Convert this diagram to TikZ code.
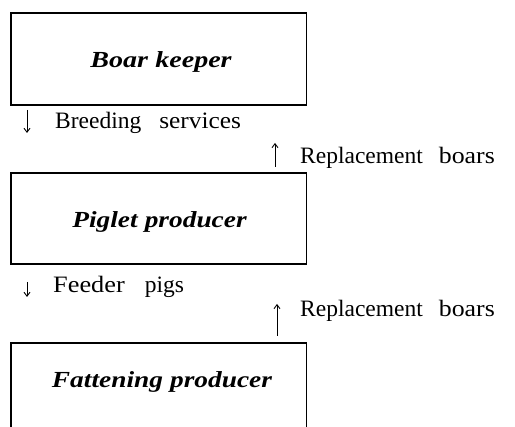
\documentclass[tikz,border=0pt]{standalone}
\usepackage{fontspec}
\usepackage{graphicx}
\setmainfont{Liberation Serif}
\usetikzlibrary{arrows.meta}
\tikzset{
  frame/.style={draw=black, line width=1.8pt, inner sep=0pt, outer sep=0pt},
  actor/.style={font=\fontsize{23}{26}\selectfont\bfseries\itshape, inner sep=0pt, anchor=base},
  flow/.style={font=\fontsize{23.5}{26}\selectfont, inner sep=0pt, anchor=base west},
  flowarrow/.style={line width=0.9pt, -{Straight Barb[length=4pt,width=6pt]}}
}
\begin{document}
\begin{tikzpicture}[x=1pt,y=-1pt]
\useasboundingbox (0,0) rectangle (515,427);
% boxes
\node[frame, minimum width=295.5pt, minimum height=92pt] (b1) at (158.75,59) {};
\node[frame, minimum width=295.5pt, minimum height=91pt] (b2) at (158.75,218.5) {};
\coordinate (b3tl) at (11,343);
\coordinate (b3tr) at (306.5,343);
\coordinate (b3bl) at (11,430);
\coordinate (b3br) at (306.5,430);
\draw[line width=1.8pt] (b3bl) -- (b3tl) -- (b3tr) -- (b3br);
% box labels
\node[actor] (t1) at (161,68) {\scalebox{1.22}[1]{Boar\hspace{6pt}keeper}};
\node[actor] (t2) at (159.5,228) {\scalebox{1.19}[1]{Piglet\hspace{6pt}producer}};
\node[actor] (t3) at (162,388) {\scalebox{1.19}[1]{Fattening\hspace{6pt}producer}};
% flow labels
\node[flow] (l1) at (55,129) {Breeding\hspace{18pt}\scalebox{1.08}[1]{services}};
\node[flow] (l2) at (300,164) {Replacement\hspace{16pt}\scalebox{1.1}[1]{boars}};
\node[flow] (l3) at (53,293) {\scalebox{1.12}[1]{Feeder}\hspace{20pt}pigs};
\node[flow] (l4) at (300,317) {Replacement\hspace{16pt}\scalebox{1.1}[1]{boars}};
% arrows
\coordinate (a1s) at (27,110); \coordinate (a1e) at (27,133);
\coordinate (a2s) at (275,167); \coordinate (a2e) at (275,143);
\coordinate (a3s) at (27,282); \coordinate (a3e) at (27,297);
\coordinate (a4s) at (277,336); \coordinate (a4e) at (277,304);
\draw[flowarrow] (a1s) -- (a1e);
\draw[flowarrow] (a2s) -- (a2e);
\draw[flowarrow] (a3s) -- (a3e);
\draw[flowarrow] (a4s) -- (a4e);
\end{tikzpicture}
\end{document}
